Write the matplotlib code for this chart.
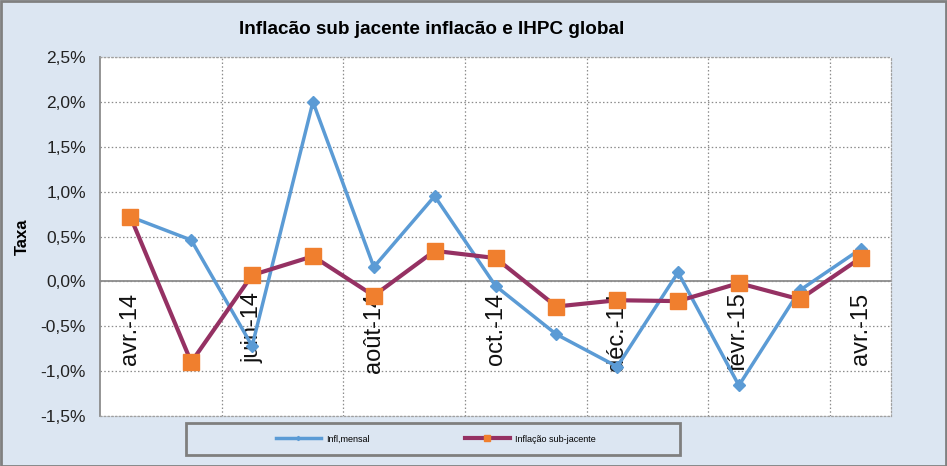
import matplotlib
matplotlib.use("Agg")
import matplotlib.pyplot as plt
from matplotlib.patches import Rectangle
from matplotlib.ticker import FuncFormatter, MultipleLocator, FixedLocator

months = ["avr.-14", "mai-14", "juin-14", "juil.-14", "août-14", "sept.-14", "oct.-14",
          "nov.-14", "déc.-14", "janv.-15", "févr.-15", "mars-15", "avr.-15"]
infl_mensal = [0.72, 0.46, -0.72, 2.00, 0.16, 0.95, -0.05, -0.59, -0.95, 0.10, -1.16, -0.10, 0.36]
infl_sub = [0.72, -0.90, 0.07, 0.28, -0.16, 0.34, 0.26, -0.28, -0.21, -0.22, -0.02, -0.20, 0.26]

title = "Inflacão sub jacente inflacão e IHPC global"
ylabel = "Taxa"
legend_labels = ["Infl,mensal", "Inflação sub-jacente"]

bg = "#DCE6F2"
plt.rcParams['font.family'] = ['Liberation Sans', 'DejaVu Sans']

fig = plt.figure(figsize=(9.47, 4.66), dpi=100, facecolor=bg)
ax = fig.add_axes([100/947, 1-416/466, 791/947, 359/466])
ax.set_facecolor("white")

x = list(range(len(months)))
l1, = ax.plot(x, infl_mensal, color="#5B9BD5", lw=2.5, marker="D", ms=6, zorder=3)
l2, = ax.plot(x, infl_sub, color="#953163", lw=3, marker="s", ms=12,
              markerfacecolor="#F07F2E", markeredgecolor="#F07F2E", zorder=4)

ax.set_xlim(-0.5, len(months) - 0.5)
ax.set_ylim(-1.5, 2.5)
ax.yaxis.set_major_locator(MultipleLocator(0.5))
ax.yaxis.set_major_formatter(FuncFormatter(lambda v, p: f"{v:.1f}%".replace(".", ",")))
ax.tick_params(axis='y', length=0, labelsize=12.5, pad=10, labelcolor="#222222")
ax.tick_params(axis='x', length=0, labelbottom=False)
ax.xaxis.set_major_locator(FixedLocator([i + 0.5 for i in x[1:-1:2]]))

ax.grid(True, axis='both', color="#8C8C8C", ls=(0, (1.2, 1.8)), lw=0.9)
ax.axhline(0, color="#8C8C8C", lw=1.3, zorder=2)

for s in ["top", "right", "bottom"]:
    ax.spines[s].set_color("#A0A0A0")
    ax.spines[s].set_linestyle((0, (1.2, 1.8)))
    ax.spines[s].set_linewidth(0.9)
ax.spines["left"].set_color("#8C8C8C")
ax.spines["left"].set_linewidth(1.3)

for i in x[::2]:
    ax.annotate(months[i], (i, 0), xytext=(0, -8), textcoords="offset points",
                rotation=90, ha="center", va="top", fontsize=17, color="#111111", zorder=2.5)

ax.set_ylabel(ylabel, fontsize=12, fontweight="bold")
ax.yaxis.set_label_coords(-70/791, 0.5)

fig.text(432/947, 1-30/466, title, ha="center", va="center", fontsize=13.6, fontweight="bold")

fig.patches.append(Rectangle((186/947, 1-455/466), 494/947, 32/466, transform=fig.transFigure,
                             fill=True, facecolor=bg, edgecolor="#7F7F7F", lw=2, zorder=5))
leg = fig.legend([l1, l2], legend_labels, loc="center", ncol=2,
                 bbox_to_anchor=(436/947, 1-439/466),
                 fontsize=6.5, frameon=False, handlelength=5, columnspacing=10.5,
                 handletextpad=0.6, markerscale=0.35)
leg.set_zorder(6)

fig.patches.append(Rectangle((0.001, 0.001), 0.998, 0.997, transform=fig.transFigure,
                             fill=False, edgecolor="#808080", lw=2))

fig.savefig("out.png", dpi=100, facecolor=bg)
